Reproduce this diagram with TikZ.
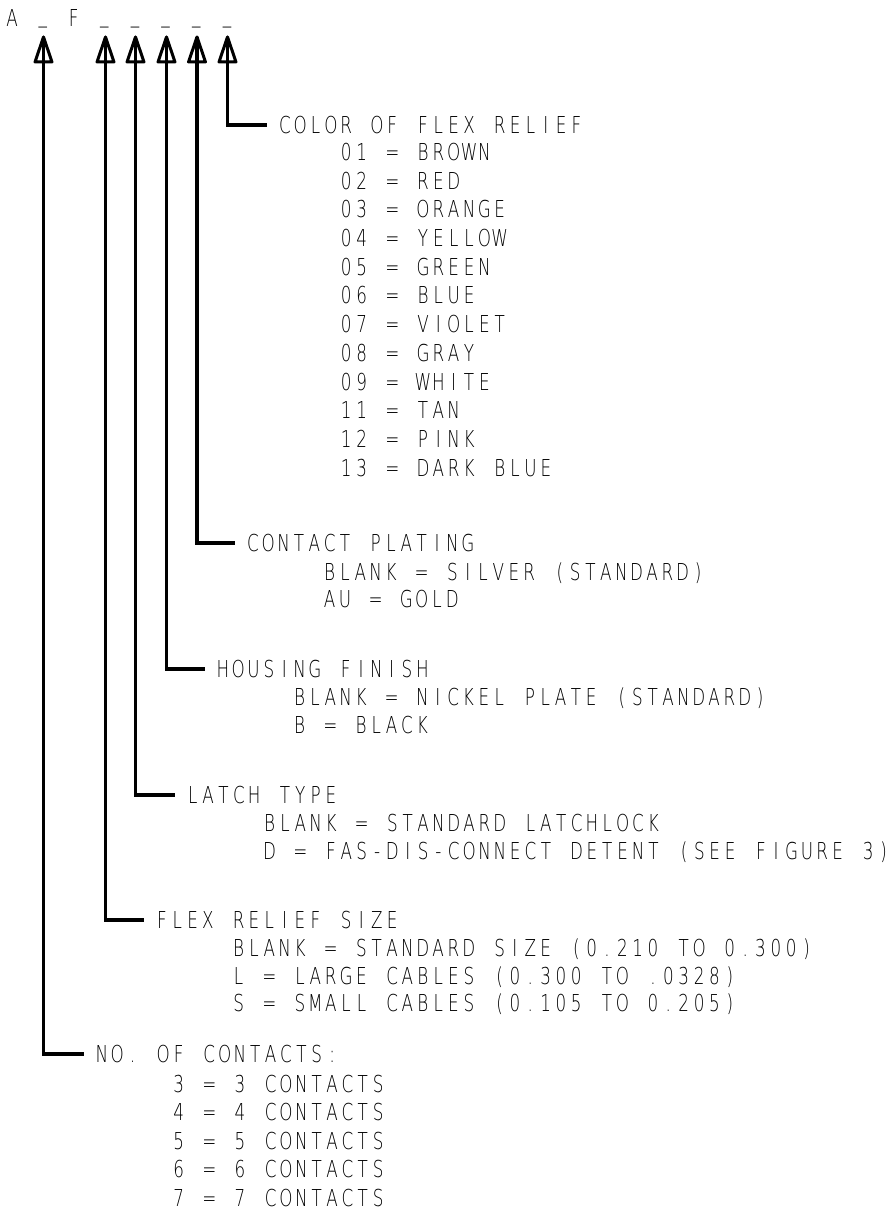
\documentclass[tikz,border=0pt]{standalone}
\usepackage{fontspec}
\newfontfamily\cad{DejaVu Sans ExtraLight}[FakeStretch=0.72]
\newcommand\cadtext{\cad\fontsize{23.3}{28}\selectfont}
\ExplSyntaxOn
\dim_new:N \l_cad_w_dim
\dim_set:Nn \l_cad_w_dim {15.35pt}
\cs_new_protected:Npn \cad_cell:n #1
  {
    \str_if_eq:nnTF {#1} {_}
      { \hbox_to_wd:nn {\l_cad_w_dim} { \hss \raisebox{4.8pt}{\char95} \hss } }
      { \hbox_to_wd:nn {\l_cad_w_dim} { \hss #1 \hss } }
  }
\cs_new_protected:Npn \cad_str:n #1 { \str_map_function:nN {#1} \cad_cell:n }
\NewDocumentCommand \cadstr { m } { \exp_args:No \cad_str:n {#1} }
\ExplSyntaxOff
\begin{document}
\begin{tikzpicture}[x=1pt,y=-1pt,
  lbl/.style={anchor=base west, inner sep=0pt, outer sep=0pt, font=\cadtext},
  lead/.style={line width=3.3pt, line cap=butt, line join=miter},
  tiphead/.style={line width=3pt, line join=round}]
\useasboundingbox (0,0) rectangle (891,1214);
% top code row
\node[lbl] (code) at (4.5,27) {\cadstr{A _ F _ _ _ _ _}};
% tips
\foreach \x [count=\i] in {43.5,105.5,135.5,166.5,197,227.5}{
  \coordinate (t\i) at (\x,37);
  \draw[tiphead] (t\i) -- ++(-8.5,25) -- ++(17,0) -- cycle;
}
% headings
\node[lbl] (h6) at (277.2,{125+8.4}) {\cadstr{COLOR OF FLEX RELIEF}};
\node[lbl] (h5) at (245.2,{543+8.4}) {\cadstr{CONTACT PLATING}};
\node[lbl] (h4) at (215.2,{669+8.4}) {\cadstr{HOUSING FINISH}};
\node[lbl] (h3) at (185.2,{795+8.4}) {\cadstr{LATCH TYPE}};
\node[lbl] (h2) at (154.2,{920+8.4}) {\cadstr{FLEX RELIEF SIZE}};
\node[lbl] (h1) at (94.2,{1054+8.4}) {\cadstr{NO. OF CONTACTS:}};
% leaders
\foreach \i/\h in {6/h6,5/h5,4/h4,3/h3,2/h2,1/h1}
  \draw[lead] (t\i) |- ([shift={(-10.5,-8.4)}]\h.base west);
% items
\foreach \t [count=\i] in {{01 = BROWN},{02 = RED},{03 = ORANGE},{04 = YELLOW},{05 = GREEN},{06 = BLUE},{07 = VIOLET},{08 = GRAY},{09 = WHITE},{11 = TAN},{12 = PINK},{13 = DARK BLUE}}
  \node[lbl] (col\i) at ([xshift=61.4]h6.base west |- 0,{152+28.7*(\i-1)+8.4}) {\cadstr{\t}};
\foreach \t [count=\i] in {{BLANK = SILVER (STANDARD)},{AU = GOLD}}
  \node[lbl] (pl\i) at ([xshift=76.75]h5.base west |- 0,{543+29+27.5*(\i-1)+8.4}) {\cadstr{\t}};
\foreach \t [count=\i] in {{BLANK = NICKEL PLATE (STANDARD)},{B = BLACK}}
  \node[lbl] (hf\i) at ([xshift=76.75]h4.base west |- 0,{669+28.5+27.5*(\i-1)+8.4}) {\cadstr{\t}};
\foreach \t [count=\i] in {{BLANK = STANDARD LATCHLOCK},{D = FAS-DIS-CONNECT DETENT (SEE FIGURE 3)}}
  \node[lbl] (lt\i) at ([xshift=76.75]h3.base west |- 0,{795+28.5+27.5*(\i-1)+8.4}) {\cadstr{\t}};
\foreach \t [count=\i] in {{BLANK = STANDARD SIZE (0.210 TO 0.300)},{L = LARGE CABLES (0.300 TO .0328)},{S = SMALL CABLES (0.105 TO 0.205)}}
  \node[lbl] (fr\i) at ([xshift=76.75]h2.base west |- 0,{920+28.5+27.5*(\i-1)+8.4}) {\cadstr{\t}};
\foreach \t [count=\i] in {{3 = 3 CONTACTS},{4 = 4 CONTACTS},{5 = 5 CONTACTS},{6 = 6 CONTACTS},{7 = 7 CONTACTS}}
  \node[lbl] (nc\i) at ([xshift=76.75]h1.base west |- 0,{1054+30+28.5*(\i-1)+8.4}) {\cadstr{\t}};
\end{tikzpicture}
\end{document}
